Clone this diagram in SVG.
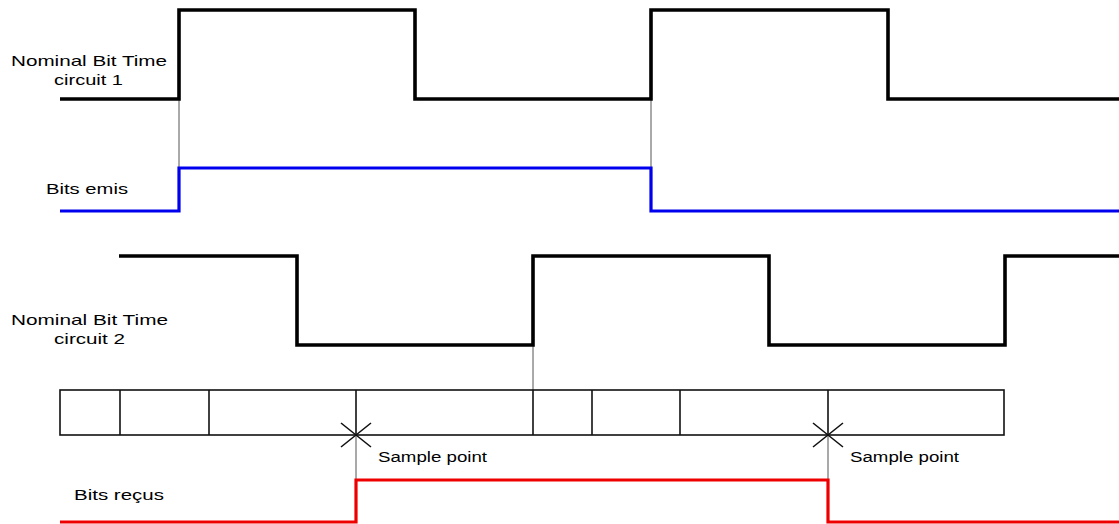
<svg xmlns="http://www.w3.org/2000/svg" width="1119" height="524" viewBox="0 0 1119 524">
<style>
.sig{fill:none;stroke-width:3.2;stroke-linejoin:miter;stroke-linecap:butt}
.k{stroke:#000;stroke-width:3.6}
.b{stroke:#0000ee}
.r{stroke:#ee0000}
.guide{fill:none;stroke:#555;stroke-width:1}
.box{fill:none;stroke:#111;stroke-width:1.6}
.lbl{font-family:"Liberation Sans",Arial,sans-serif;font-size:15px;fill:#000}
.sp{font-family:"Liberation Sans",Arial,sans-serif;font-size:14px;fill:#000}
</style>
<rect width="1119" height="524" fill="#fff"/>
<g id="connectors">
<line class="guide" x1="179" y1="99" x2="179" y2="168"/>
<line class="guide" x1="651" y1="99" x2="651" y2="168"/>
<line class="guide" x1="533" y1="345" x2="533" y2="390"/>
<line class="guide" x1="356" y1="435" x2="356" y2="480"/>
<line class="guide" x1="828" y1="435" x2="828" y2="480"/>
</g>
<g id="circuit1">
<polyline class="sig k" points="60,99 179,99 179,10 415,10 415,99 651,99 651,10 888,10 888,99 1119,99"/>
<text class="lbl" x="11" y="66" textLength="156" lengthAdjust="spacingAndGlyphs">Nominal Bit Time</text>
<text class="lbl" x="54" y="85" textLength="69" lengthAdjust="spacingAndGlyphs">circuit 1</text>
</g>
<g id="bits-emis">
<polyline class="sig b" points="60,211 179,211 179,168 651,168 651,211 1119,211"/>
<text class="lbl" x="46" y="194" textLength="82" lengthAdjust="spacingAndGlyphs">Bits emis</text>
</g>
<g id="circuit2">
<polyline class="sig k" points="119,256 297,256 297,345 533,345 533,256 769,256 769,345 1005,345 1005,256 1119,256"/>
<text class="lbl" x="11" y="325" textLength="157" lengthAdjust="spacingAndGlyphs">Nominal Bit Time</text>
<text class="lbl" x="54" y="344" textLength="71" lengthAdjust="spacingAndGlyphs">circuit 2</text>
</g>
<g id="segments">
<rect class="box" x="60" y="390" width="944" height="45"/>
<line class="box" x1="120" y1="390" x2="120" y2="435"/>
<line class="box" x1="209" y1="390" x2="209" y2="435"/>
<line class="box" x1="356" y1="390" x2="356" y2="435"/>
<line class="box" x1="533" y1="390" x2="533" y2="435"/>
<line class="box" x1="592" y1="390" x2="592" y2="435"/>
<line class="box" x1="680" y1="390" x2="680" y2="435"/>
<line class="box" x1="828" y1="390" x2="828" y2="435"/>
</g>
<g id="sample1">
<path class="box" d="M341,423 L371,447 M341,447 L371,423"/>
<text class="sp" x="378" y="462" textLength="109" lengthAdjust="spacingAndGlyphs">Sample point</text>
</g>
<g id="sample2">
<path class="box" d="M813,423 L843,447 M813,447 L843,423"/>
<text class="sp" x="850" y="462" textLength="109" lengthAdjust="spacingAndGlyphs">Sample point</text>
</g>
<g id="bits-recus">
<polyline class="sig r" points="60,522 356,522 356,480 828,480 828,522 1119,522"/>
<text class="lbl" x="74" y="500" textLength="90" lengthAdjust="spacingAndGlyphs">Bits reçus</text>
</g>
</svg>
